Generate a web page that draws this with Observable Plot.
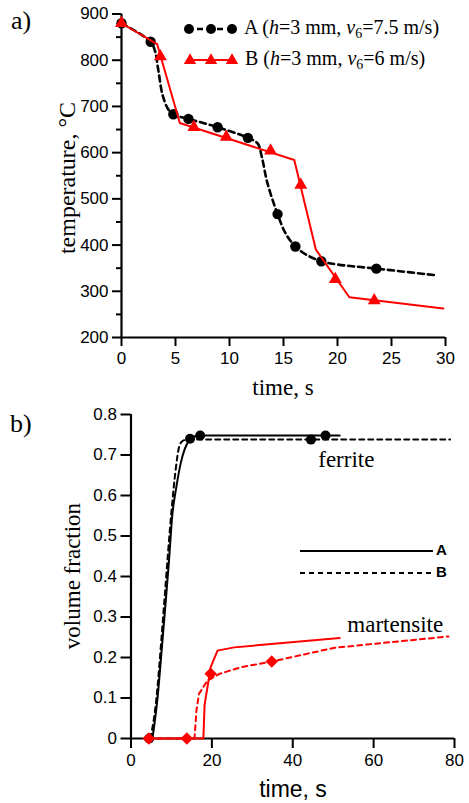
<!DOCTYPE html>
<html>
<head>
<meta charset="utf-8">
<script src="https://cdn.jsdelivr.net/npm/d3@7"></script>
<script src="https://cdn.jsdelivr.net/npm/@observablehq/plot@0.6"></script>
<style>
  html, body { margin: 0; padding: 0; background: #fff; }
  #wrap { position: relative; width: 469px; height: 803px; overflow: hidden; background: #fff; }
  .abs { position: absolute; white-space: nowrap; line-height: 1; color: #000; }
  .serif { font-family: "Liberation Serif", "Times New Roman", serif; }
  .sans { font-family: "Liberation Sans", Arial, sans-serif; }
  .rot { transform: translate(-50%, -50%) rotate(-90deg); }
  .ctr { transform: translate(-50%, -50%); }
  .plot { position: absolute; left: 0; }
  sub { font-size: 0.7em; vertical-align: -0.3em; line-height: 0; }
</style>
</head>
<body>
<div id="wrap"></div>
<script>
// ---------- Panel a) temperature vs time ----------
const aLineTime = [0, 2.7, 3.1, 3.4, 3.8, 4.3, 4.8, 6.2, 8.9, 11.7, 12.6, 13.0, 13.5, 14.45, 15.2, 16.1, 17.2, 18.5, 20, 23.6, 29];
const aLineTemp = [880, 840, 820, 780, 725, 695, 683, 673, 655, 632, 620, 590, 535, 467, 425, 397, 378, 365, 358, 349, 335];
const aDotTime = [0, 2.7, 4.8, 6.2, 8.9, 11.7, 14.45, 16.1, 18.5, 23.6];
const aDotTemp = [880, 840, 683, 673, 655, 632, 467, 397, 365, 349];

const bLineTime = [0, 3.3, 5.4, 16.0, 18.0, 21.1, 29.8];
const bLineTemp = [880, 835, 664, 584, 390, 287, 263];
const bTriTime = [0, 3.6, 6.7, 9.7, 13.8, 16.6, 19.8, 23.4];
const bTriTemp = [880, 808, 655, 634, 604, 530, 326, 280];

const tempXTicks = [0, 5, 10, 15, 20, 25, 30];
const tempYTicks = [200, 300, 400, 500, 600, 700, 800, 900];
const tempYMinor = [250, 350, 450, 550, 650, 750, 850];

// ---------- Panel b) volume fraction vs time ----------
const ferATime = [5.3, 6.5, 7.6, 8.6, 9.4, 10.2, 11.2, 12.3, 13.3, 14.3, 15.5, 17, 51.6];
const ferAFrac = [0, 0.094, 0.22, 0.34, 0.44, 0.55, 0.62, 0.68, 0.715, 0.735, 0.745, 0.748, 0.748];
const ferBTime = [4.8, 6.3, 7.4, 8.4, 10.0, 11.0, 11.9, 12.8, 14, 78.9];
const ferBFrac = [0, 0.1, 0.23, 0.36, 0.56, 0.66, 0.72, 0.735, 0.738, 0.738];
const ferDotTime = [4.5, 14.6, 17.1, 44.5, 48.1];
const ferDotFrac = [0, 0.74, 0.748, 0.738, 0.748];

const marATime = [4.4, 17.9, 18.2, 19.7, 21.4, 25.5, 51.6];
const marAFrac = [0, 0, 0.083, 0.176, 0.217, 0.225, 0.248];
const marBTime = [4.4, 15.7, 16.2, 16.8, 18.9, 22, 27.2, 34.8, 50.3, 78.5];
const marBFrac = [0, 0, 0.07, 0.11, 0.143, 0.16, 0.176, 0.19, 0.224, 0.252];
const marDiaTime = [4.4, 13.8, 19.7, 34.8];
const marDiaFrac = [0, 0, 0.16, 0.19];

const fracXTicks = [0, 20, 40, 60, 80];
const fracYTicks = [0, 0.1, 0.2, 0.3, 0.4, 0.5, 0.6, 0.7, 0.8];

const phaseLabels = [
  {t: 46.3, v: 0.689, text: "ferrite"},
  {t: 53.5, v: 0.281, text: "martensite"}
];

const RED = "#ff0000";
const zip = (xs, ys) => xs.map((x, i) => ({x, y: ys[i]}));

const wrap = document.getElementById("wrap");

const plotA = Plot.plot({
  width: 469, height: 400,
  marginLeft: 121, marginRight: 24, marginTop: 13.5, marginBottom: 63,
  style: {fontFamily: "Liberation Sans, Arial, sans-serif", fontSize: "17px", color: "#000", background: "transparent", overflow: "visible"},
  x: {domain: [0, 30]},
  y: {domain: [200, 900]},
  marks: [
    Plot.axisX(tempXTicks, {tickSize: 9, tickPadding: 5, strokeWidth: 2, fontSize: 17, label: null}),
    Plot.axisY(tempYTicks, {tickSize: 9, tickPadding: 4, strokeWidth: 2, fontSize: 17, label: null}),
    Plot.axisY(tempYMinor, {tickSize: 5, strokeWidth: 2, tickFormat: () => "", label: null}),
    Plot.ruleX([0], {strokeWidth: 2.2}),
    Plot.ruleY([200], {strokeWidth: 2.2}),
    Plot.line(zip(aLineTime, aLineTemp), {x: "x", y: "y", stroke: "#000", strokeWidth: 2.6, strokeDasharray: "6,4", curve: "catmull-rom"}),
    Plot.dot(zip(aDotTime, aDotTemp), {x: "x", y: "y", r: 5.2, fill: "#000"}),
    Plot.line(zip(bLineTime, bLineTemp), {x: "x", y: "y", stroke: RED, strokeWidth: 2}),
    Plot.dot(zip(bTriTime, bTriTemp), {x: "x", y: "y", symbol: "triangle", r: 4.8, fill: RED})
  ]
});
plotA.classList.add("plot");
plotA.style.top = "0px";
wrap.appendChild(plotA);

const plotB = Plot.plot({
  width: 469, height: 403,
  marginLeft: 130.5, marginRight: 15, marginTop: 14, marginBottom: 65,
  style: {fontFamily: "Liberation Sans, Arial, sans-serif", fontSize: "17px", color: "#000", background: "transparent", overflow: "visible"},
  x: {domain: [0, 80]},
  y: {domain: [0, 0.8]},
  marks: [
    Plot.axisX(fracXTicks, {tickSize: 10, tickPadding: 5, strokeWidth: 2, fontSize: 17, label: null}),
    Plot.axisY(fracYTicks, {tickSize: 10, tickPadding: 4, strokeWidth: 2, fontSize: 17, label: null, tickFormat: d => d === 0 ? "0" : d.toFixed(1)}),
    Plot.ruleX([0], {strokeWidth: 2.2}),
    Plot.ruleY([0], {strokeWidth: 2.2}),
    Plot.line(zip(ferBTime, ferBFrac), {x: "x", y: "y", stroke: "#000", strokeWidth: 2, strokeDasharray: "5,4", curve: "monotone-x"}),
    Plot.line(zip(ferATime, ferAFrac), {x: "x", y: "y", stroke: "#000", strokeWidth: 2, curve: "monotone-x"}),
    Plot.dot(zip(ferDotTime, ferDotFrac), {x: "x", y: "y", r: 5, fill: "#000"}),
    Plot.line(zip(marBTime, marBFrac), {x: "x", y: "y", stroke: RED, strokeWidth: 2, strokeDasharray: "5,4"}),
    Plot.line(zip(marATime, marAFrac), {x: "x", y: "y", stroke: RED, strokeWidth: 2}),
    Plot.dot(zip(marDiaTime, marDiaFrac), {x: "x", y: "y", symbol: "diamond2", r: 5.6, fill: RED}),
    Plot.text(phaseLabels, {x: "t", y: "v", text: "text", textAnchor: "start", lineAnchor: "middle", fontFamily: "Liberation Serif, Times New Roman, serif", fontSize: 23, fill: "#000"})
  ]
});
plotB.classList.add("plot");
plotB.style.top = "400px";
wrap.appendChild(plotB);

// ---------- text labels & legends ----------
function addDiv(html, cls, left, top, extra) {
  const d = document.createElement("div");
  d.className = "abs " + cls;
  d.innerHTML = html;
  d.style.left = left + "px";
  d.style.top = top + "px";
  if (extra) Object.assign(d.style, extra);
  wrap.appendChild(d);
  return d;
}

addDiv("a)", "serif", 11, 8, {fontSize: "26px"});
addDiv("b)", "serif", 10, 411, {fontSize: "26px"});
addDiv("temperature, °C", "serif rot", 67, 178, {fontSize: "24px"});
addDiv("time, s", "serif ctr", 283, 387, {fontSize: "23px"});
addDiv("volume fraction", "serif rot", 72, 576, {fontSize: "23px"});
addDiv("time, s", "sans ctr", 293, 789, {fontSize: "23px"});

// legend panel a
const ns = "http://www.w3.org/2000/svg";
function swatch(kind) {
  const svg = document.createElementNS(ns, "svg");
  svg.setAttribute("width", 56); svg.setAttribute("height", 14);
  svg.style.verticalAlign = "middle";
  const line = document.createElementNS(ns, "line");
  line.setAttribute("x1", 3); line.setAttribute("x2", 50); line.setAttribute("y1", 7); line.setAttribute("y2", 7);
  if (kind === "A") {
    line.setAttribute("stroke", "#000"); line.setAttribute("stroke-width", 2.6); line.setAttribute("stroke-dasharray", "6,4");
    svg.appendChild(line);
    [5, 27, 48].forEach(cx => { const c = document.createElementNS(ns, "circle"); c.setAttribute("cx", cx); c.setAttribute("cy", 7); c.setAttribute("r", 5); c.setAttribute("fill", "#000"); svg.appendChild(c); });
  } else {
    line.setAttribute("stroke", RED); line.setAttribute("stroke-width", 2);
    svg.appendChild(line);
    [6, 27, 48].forEach(cx => { const p = document.createElementNS(ns, "path"); p.setAttribute("d", d3.symbol(d3.symbolTriangle, 66)()); p.setAttribute("transform", `translate(${cx},7.5)`); p.setAttribute("fill", RED); svg.appendChild(p); });
  }
  return svg;
}
const legA = addDiv(' A (<i>h</i>=3 mm, <i>v</i><sub>6</sub>=7.5 m/s)', "serif", 184, 17, {fontSize: "20px"});
legA.prepend(swatch("A"));
const legB = addDiv(' B (<i>h</i>=3 mm, <i>v</i><sub>6</sub>=6 m/s)', "serif", 184, 48, {fontSize: "20px"});
legB.prepend(swatch("B"));

// legend panel b
function lineSwatch(dash) {
  const svg = document.createElementNS(ns, "svg");
  svg.setAttribute("width", 136); svg.setAttribute("height", 10);
  svg.style.verticalAlign = "middle";
  const l = document.createElementNS(ns, "line");
  l.setAttribute("x1", 0); l.setAttribute("x2", 133); l.setAttribute("y1", 5); l.setAttribute("y2", 5);
  l.setAttribute("stroke", "#000"); l.setAttribute("stroke-width", 2);
  if (dash) l.setAttribute("stroke-dasharray", "5,4");
  svg.appendChild(l);
  return svg;
}
const lA = addDiv("A", "sans", 300, 542, {fontSize: "15px", fontWeight: "bold"});
lA.prepend(lineSwatch(false));
const lB = addDiv("B", "sans", 300, 564, {fontSize: "15px", fontWeight: "bold"});
lB.prepend(lineSwatch(true));
</script>
</body>
</html>
